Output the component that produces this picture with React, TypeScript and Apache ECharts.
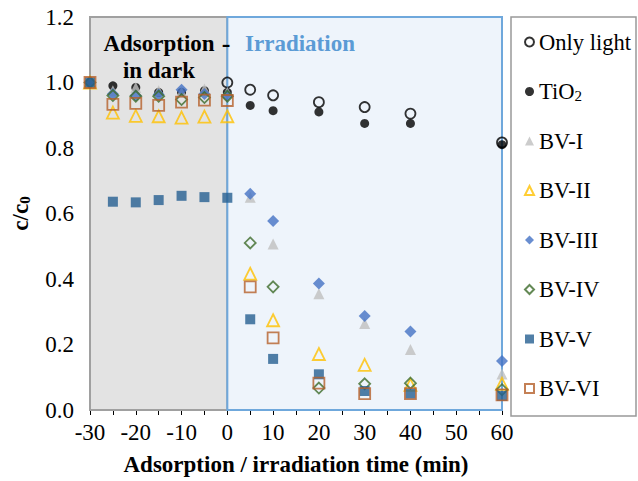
import React, { useEffect, useRef } from "react";
import * as echarts from "echarts";

const darkTimes = [-30, -25, -20, -15, -10, -5, 0];
const lightTimes = [5, 10, 20, 30, 40, 60];
const allTimes = [...darkTimes, ...lightTimes];
const onlyLightTimes = [0, 5, 10, 20, 30, 40, 60];

const onlyLight = [1.0, 0.978, 0.961, 0.94, 0.925, 0.905, 0.817];
const tio2 = [1.0, 0.99, 0.985, 0.97, 0.97, 0.975, 0.97, 0.93, 0.914, 0.91, 0.875, 0.875, 0.81];
const bv1 = [1.0, 0.975, 0.985, 0.975, 0.97, 0.98, 0.97, 0.65, 0.507, 0.355, 0.264, 0.185, 0.11];
const bv2 = [1.0, 0.908, 0.898, 0.897, 0.893, 0.896, 0.897, 0.416, 0.274, 0.171, 0.138, 0.077, 0.08];
const bv3 = [1.0, 0.965, 0.96, 0.963, 0.978, 0.965, 0.96, 0.66, 0.577, 0.386, 0.287, 0.24, 0.15];
const bv4 = [1.0, 0.96, 0.958, 0.958, 0.948, 0.954, 0.958, 0.51, 0.376, 0.067, 0.08, 0.082, 0.062];
const bv5 = [1.0, 0.636, 0.634, 0.641, 0.654, 0.65, 0.648, 0.277, 0.156, 0.109, 0.058, 0.05, 0.043];
const bv6 = [1.0, 0.933, 0.936, 0.93, 0.94, 0.946, 0.945, 0.376, 0.22, 0.082, 0.05, 0.05, 0.046];

const seriesNames = ["Only light", "TiO2", "BV-I", "BV-II", "BV-III", "BV-IV", "BV-V", "BV-VI"];

const FONT = "Liberation Serif";

function pairs(xs: number[], ys: number[]) {
  return xs.map((x, i) => [x, ys[i]]);
}

export default function App() {
  const ref = useRef<HTMLDivElement>(null);
  useEffect(() => {
    if (!ref.current) return;
    const chart = echarts.init(ref.current, undefined, { renderer: "svg" });
    const hollow = "rgba(0,0,0,0)";
    const option: any = {
      animation: false,
      backgroundColor: "#ffffff",
      textStyle: { fontFamily: FONT },
      grid: { left: 88, right: 136, top: 17, bottom: 69 },
      xAxis: {
        type: "value",
        min: -30,
        max: 60,
        interval: 10,
        name: "Adsorption / irradiation time (min)",
        nameLocation: "middle",
        nameGap: 43,
        nameTextStyle: { fontFamily: FONT, fontSize: 23, fontWeight: "bold", color: "#000" },
        axisLine: { show: true, onZero: false, lineStyle: { color: "#000", width: 1 } },
        axisTick: { show: true, length: 5, lineStyle: { color: "#000" } },
        minorTick: { show: true, splitNumber: 2, length: 5, lineStyle: { color: "#000" } },
        axisLabel: { fontFamily: FONT, fontSize: 23, color: "#000", margin: 11 },
        splitLine: { show: false },
      },
      yAxis: {
        type: "value",
        min: 0,
        max: 1.2,
        interval: 0.2,
        name: "c/c{sub|0}",
        nameLocation: "middle",
        nameGap: 58,
        nameRotate: 90,
        nameTextStyle: {
          fontFamily: FONT,
          fontSize: 23,
          fontWeight: "bold",
          color: "#000",
          lineHeight: 24,
          rich: {
            sub: { fontFamily: FONT, fontSize: 15, fontWeight: "bold", color: "#000", lineHeight: 10, verticalAlign: "bottom" },
          },
        },
        axisLine: { show: true, lineStyle: { color: "#000", width: 1 } },
        axisTick: { show: true, length: 5, lineStyle: { color: "#000" } },
        minorTick: { show: true, splitNumber: 2, length: 5, lineStyle: { color: "#000" } },
        axisLabel: {
          fontFamily: FONT,
          fontSize: 23,
          color: "#000",
          margin: 16,
          formatter: (v: number) => v.toFixed(1),
        },
        splitLine: { show: false },
      },
      legend: {
        orient: "vertical",
        left: 519,
        top: 25,
        itemWidth: 9,
        itemHeight: 9,
        itemGap: 25.5,
        data: seriesNames,
        textStyle: {
          fontFamily: FONT,
          fontSize: 22.5,
          color: "#000",
          lineHeight: 24,
          rich: {
            sub: { fontFamily: FONT, fontSize: 15, color: "#000", lineHeight: 10, verticalAlign: "bottom" },
          },
        },
        formatter: (n: string) => (n === "TiO2" ? "TiO{sub|2}" : n),
      },
      graphic: [
        {
          type: "rect",
          shape: { x: 511, y: 17, width: 125, height: 399 },
          style: { fill: "#fff", stroke: "#999", lineWidth: 1.5 },
          z: -10,
        },
        {
          type: "text",
          x: 159,
          y: 43,
          style: {
            text: "Adsorption",
            font: `bold 23px ${FONT}`,
            fill: "#000",
            textAlign: "center",
            textVerticalAlign: "middle",
          },
          z: 10,
        },
        {
          type: "text",
          x: 159,
          y: 70,
          style: {
            text: "in dark",
            font: `bold 23px ${FONT}`,
            fill: "#000",
            textAlign: "center",
            textVerticalAlign: "middle",
          },
          z: 10,
        },
        {
          type: "text",
          x: 226,
          y: 43,
          style: {
            text: "-",
            font: `bold 26px ${FONT}`,
            fill: "#000",
            textAlign: "center",
            textVerticalAlign: "middle",
          },
          z: 10,
        },
        {
          type: "text",
          x: 300,
          y: 43,
          style: {
            text: "Irradiation",
            font: `bold 23px ${FONT}`,
            fill: "#5b9bd5",
            textAlign: "center",
            textVerticalAlign: "middle",
          },
          z: 10,
        },
      ],
      series: [
        {
          name: "Only light",
          type: "scatter",
          symbol: "circle",
          symbolSize: 10,
          itemStyle: { color: hollow, borderColor: "#000", borderWidth: 1.8 },
          data: pairs(onlyLightTimes, onlyLight),
          markArea: {
            silent: true,
            data: [
              [
                { xAxis: -30, yAxis: 0, itemStyle: { color: "#e3e3e3", borderColor: "#a0a0a0", borderWidth: 2 } },
                { xAxis: 0, yAxis: 1.2 },
              ],
              [
                { xAxis: 0, yAxis: 0, itemStyle: { color: "#eef4fb", borderColor: "#6fa8dc", borderWidth: 2 } },
                { xAxis: 60, yAxis: 1.2 },
              ],
            ],
          },
        },
        {
          name: "TiO2",
          type: "scatter",
          symbol: "circle",
          symbolSize: 9,
          itemStyle: { color: "#000" },
          data: pairs(allTimes, tio2),
        },
        {
          name: "BV-I",
          type: "scatter",
          symbol: "triangle",
          symbolSize: 11,
          itemStyle: { color: "#bfbfbf" },
          data: pairs(allTimes, bv1),
        },
        {
          name: "BV-II",
          type: "scatter",
          symbol: "triangle",
          symbolSize: 12,
          itemStyle: { color: hollow, borderColor: "#ffc000", borderWidth: 1.8 },
          data: pairs(allTimes, bv2),
        },
        {
          name: "BV-III",
          type: "scatter",
          symbol: "diamond",
          symbolSize: 12,
          itemStyle: { color: "#4472c4" },
          data: pairs(allTimes, bv3),
        },
        {
          name: "BV-IV",
          type: "scatter",
          symbol: "diamond",
          symbolSize: 11,
          itemStyle: { color: hollow, borderColor: "#3d6b2a", borderWidth: 1.8 },
          data: pairs(allTimes, bv4),
        },
        {
          name: "BV-V",
          type: "scatter",
          symbol: "rect",
          symbolSize: 10,
          itemStyle: { color: "#265f91" },
          data: pairs(allTimes, bv5),
        },
        {
          name: "BV-VI",
          type: "scatter",
          symbol: "rect",
          symbolSize: 11,
          itemStyle: { color: hollow, borderColor: "#b5602a", borderWidth: 1.8 },
          data: pairs(allTimes, bv6),
        },
      ],
    };
    chart.setOption(option);
    return () => chart.dispose();
  }, []);
  return (
    <div
      ref={ref}
      style={{ position: "fixed", left: 0, top: 0, width: 638, height: 481 }}
    />
  );
}
